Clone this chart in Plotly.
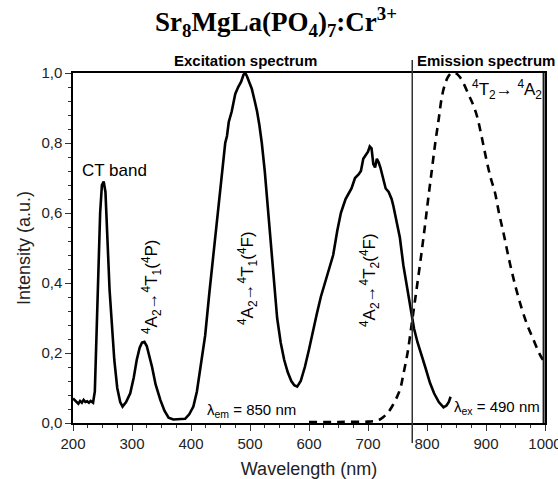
import plotly.graph_objects as go

# Excitation spectrum (lambda_em = 850 nm)
exc_wl = [200, 203, 206, 209, 212, 215, 218, 221, 224, 227, 230, 234, 237, 240, 243, 246, 249, 252, 255, 258,
          262, 266, 270, 275, 280, 284, 290, 297, 303, 308, 313, 317, 321, 325, 330, 334, 340, 348, 355, 362,
          370, 380, 390, 397, 404, 410, 416, 424, 431, 438, 444, 450, 455, 458, 461, 464, 469, 472, 475, 480,
          485, 489, 492, 495, 499, 503, 508, 512, 516, 520, 525, 529, 533, 537, 542, 546, 552, 558, 564, 570,
          575, 580, 586, 593, 600, 606, 613, 620, 627, 634, 641, 648, 654, 658, 662, 667, 672, 678, 684, 688,
          692, 696, 700, 703, 706, 709, 712, 715, 718, 721, 725, 730, 735, 740, 743, 748, 754, 760, 766, 772,
          778, 784, 790, 797, 805, 812, 820, 828, 833, 837, 840]
exc_int = [0.070, 0.065, 0.060, 0.055, 0.063, 0.058, 0.066, 0.060, 0.062, 0.058, 0.063, 0.058, 0.090, 0.250, 0.450, 0.600, 0.680, 0.690, 0.660, 0.520,
           0.380, 0.280, 0.180, 0.100, 0.060, 0.047, 0.060, 0.085, 0.130, 0.180, 0.215, 0.230, 0.232, 0.220, 0.190, 0.160, 0.110, 0.066, 0.035, 0.015,
           0.010, 0.010, 0.012, 0.025, 0.047, 0.090, 0.160, 0.250, 0.370, 0.480, 0.580, 0.670, 0.760, 0.800, 0.820, 0.860, 0.890, 0.915, 0.940, 0.960,
           0.975, 0.995, 1.000, 0.990, 0.975, 0.955, 0.920, 0.890, 0.850, 0.800, 0.720, 0.640, 0.560, 0.470, 0.370, 0.300, 0.230, 0.180, 0.145, 0.120,
           0.108, 0.104, 0.120, 0.160, 0.210, 0.260, 0.310, 0.360, 0.400, 0.440, 0.480, 0.550, 0.600, 0.620, 0.640, 0.655, 0.670, 0.700, 0.710, 0.720,
           0.755, 0.765, 0.775, 0.790, 0.785, 0.740, 0.730, 0.755, 0.745, 0.730, 0.700, 0.670, 0.660, 0.640, 0.620, 0.580, 0.530, 0.450, 0.390, 0.320,
           0.270, 0.230, 0.200, 0.160, 0.115, 0.085, 0.060, 0.045, 0.050, 0.060, 0.075]

# Emission spectrum (lambda_ex = 490 nm)
em_wl = [600, 650, 700, 712, 720, 726, 733, 740, 749, 755, 760, 767, 773, 778, 783, 791, 797, 802, 808, 814,
         820, 825, 830, 836, 842, 848, 855, 862, 870, 878, 885, 893, 901, 908, 915, 922, 930, 940, 950, 960,
         970, 980, 990, 1000]
em_int = [0.003, 0.003, 0.004, 0.006, 0.010, 0.017, 0.028, 0.045, 0.074, 0.100, 0.140, 0.200, 0.270, 0.330, 0.390, 0.490, 0.570, 0.640, 0.720, 0.800,
          0.870, 0.930, 0.965, 0.990, 1.000, 1.000, 0.990, 0.970, 0.940, 0.910, 0.875, 0.815, 0.750, 0.700, 0.660, 0.600, 0.540, 0.460, 0.390, 0.330,
          0.280, 0.240, 0.200, 0.170]

separator_wl = 775
x_range = [200, 1000]

fig = go.Figure()
fig.add_trace(go.Scatter(x=exc_wl, y=exc_int, mode="lines",
                         line=dict(color="black", width=2.6), showlegend=False))
fig.add_trace(go.Scatter(x=em_wl, y=em_int, mode="lines",
                         line=dict(color="black", width=2.6, dash="8px,6px", shape="spline"), showlegend=False))

# section separator between the excitation and emission panels
fig.add_shape(type="line", xref="x", yref="paper", x0=separator_wl, x1=separator_wl, y0=-0.057, y1=1.037,
              line=dict(color="#333333", width=1.5), layer="above")
# right frame edge
fig.add_shape(type="line", xref="paper", yref="paper", x0=0.997, x1=0.997, y0=0, y1=1,
              line=dict(color="#1a1a1a", width=2), layer="above")

FONT = "Liberation Sans, Arial, sans-serif"
tickfont = dict(family=FONT, size=15, color="#222")
fig.update_xaxes(range=x_range, dtick=100, tick0=200, tickformat="d", automargin=False,
                 ticklabeloverflow="allow",
                 showline=True, linecolor="black", linewidth=1.5, mirror=True,
                 ticks="outside", ticklen=6, tickwidth=1.3, tickcolor="#333",
                 minor=dict(dtick=25, ticks="outside", ticklen=3, tickwidth=1.2, tickcolor="#333"),
                 showgrid=False, zeroline=False, tickfont=tickfont,
                 title=dict(text="Wavelength (nm)", font=dict(family=FONT, size=18, color="#222"), standoff=12))
fig.update_yaxes(range=[0, 1.0], dtick=0.2, tickformat=".1f", automargin=False,
                 showline=True, linecolor="black", linewidth=1.5, mirror=True,
                 ticks="outside", ticklen=6, tickwidth=1.3, tickcolor="#333",
                 minor=dict(dtick=0.04, ticks="outside", ticklen=3, tickwidth=1.2, tickcolor="#333"),
                 showgrid=False, zeroline=False, tickfont=tickfont,
                 title=dict(text="Intensity (a.u.)", font=dict(family=FONT, size=18, color="#222"), standoff=6))

ann_font = dict(family=FONT, size=17, color="black")


def px_ann(text, px, py, font, angle=0):
    return dict(text=text, xref="paper", yref="paper", x=(px - 73) / 472, y=(423 - py) / 350,
                xanchor="center", yanchor="middle", textangle=angle, showarrow=False, font=font)


annotations = [
    px_ann("<b>Sr<sub>8</sub>MgLa(PO<sub>4</sub>)<sub>7</sub>:Cr<sup>3+</sup></b>", 276, 22,
           dict(family="Liberation Serif, Times New Roman, serif", size=27, color="black")),
    px_ann("<b>Excitation spectrum</b>", 245, 60, dict(family=FONT, size=15, color="black")),
    px_ann("<b>Emission spectrum</b>", 486, 60, dict(family=FONT, size=15, color="black")),
    px_ann("CT band", 114, 170, ann_font),
    px_ann("<sup>4</sup>A<sub>2</sub>→<sup>4</sup>T<sub>1</sub>(<sup>4</sup>P)", 151, 287, ann_font, -90),
    px_ann("<sup>4</sup>A<sub>2</sub>→<sup>4</sup>T<sub>1</sub>(<sup>4</sup>F)", 247, 278, ann_font, -90),
    px_ann("<sup>4</sup>A<sub>2</sub>→<sup>4</sup>T<sub>2</sub>(<sup>4</sup>F)", 369, 280, ann_font, -90),
    px_ann("<sup>4</sup>T<sub>2</sub>→ <sup>4</sup>A<sub>2</sub>", 507, 89, ann_font),
    px_ann("λ<sub>em</sub> = 850 nm", 251, 410, dict(family=FONT, size=15, color="black")),
    px_ann("λ<sub>ex</sub> = 490 nm", 497, 407, dict(family=FONT, size=15, color="black")),
]

fig.update_layout(width=558, height=479, margin=dict(l=73, r=13, t=73, b=56),
                  paper_bgcolor="white", plot_bgcolor="white", separators=",.",
                  annotations=annotations, showlegend=False)

# Remove the default page margin so the figure fills the 558x479 window exactly.
fig.write_html("out.html", config={"displayModeBar": False},
               post_script="document.body.style.margin='0';document.body.style.overflow='hidden';")
